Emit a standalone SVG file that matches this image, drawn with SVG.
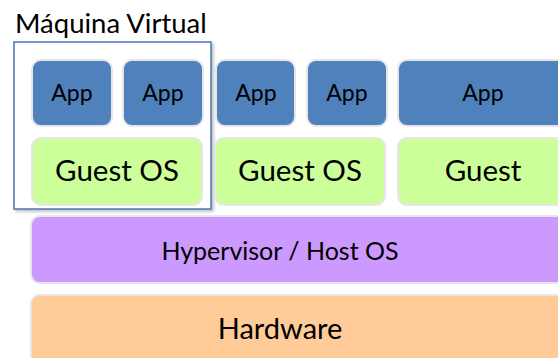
<svg xmlns="http://www.w3.org/2000/svg" width="558" height="358" viewBox="0 0 558 358">
<defs>
<filter id="sh" x="-10%" y="-10%" width="130%" height="130%">
<feDropShadow dx="2" dy="2" stdDeviation="1.5" flood-color="#000" flood-opacity="0.25"/>
</filter>
</defs>
<style>
.app{fill:#4F81BD;stroke:#E6E6E6;stroke-width:2}
.guest{fill:#CCFF99;stroke:#E6E6E6;stroke-width:2}
.hyp{fill:#CC99FF;stroke:#E6E6E6;stroke-width:2}
.hw{fill:#FFCC99;stroke:#E6E6E6;stroke-width:2}
text{font-family:Lato,"Open Sans","Liberation Sans",sans-serif;fill:#000;text-anchor:middle}
.ta{font-size:23px}
.tg{font-size:29.5px}
</style>
<rect width="558" height="358" fill="#fff"/>
<g id="vm">
<rect x="14" y="42" width="197" height="167" fill="#fff" stroke="#4A76AE" stroke-width="1.5" filter="url(#sh)"/>
<text x="15" y="33" style="font-size:27.5px;text-anchor:start">Máquina Virtual</text>
</g>
<g id="hardware">
<rect class="hw" x="31" y="295" width="560" height="80" rx="9"/>
<text x="280" y="339" style="font-size:29px">Hardware</text>
</g>
<g id="hypervisor">
<rect class="hyp" x="31" y="216" width="560" height="67" rx="9"/>
<text x="280" y="260" style="font-size:25px">Hypervisor / Host OS</text>
</g>
<g id="guest1">
<rect class="guest" x="32" y="138" width="170" height="67" rx="9"/>
<text class="tg" x="117" y="181">Guest OS</text>
</g>
<g id="guest2">
<rect class="guest" x="215" y="138" width="170" height="67" rx="9"/>
<text class="tg" x="300" y="181">Guest OS</text>
</g>
<g id="guest3">
<rect class="guest" x="398" y="138" width="170" height="67" rx="9"/>
<text class="tg" x="483" y="181">Guest</text>
</g>
<g id="app1">
<rect class="app" x="32" y="60" width="80" height="66" rx="9"/>
<text class="ta" x="72" y="101">App</text>
</g>
<g id="app2">
<rect class="app" x="123" y="60" width="80" height="66" rx="9"/>
<text class="ta" x="163" y="101">App</text>
</g>
<g id="app3">
<rect class="app" x="216" y="60" width="79" height="66" rx="9"/>
<text class="ta" x="256" y="101">App</text>
</g>
<g id="app4">
<rect class="app" x="307" y="60" width="80" height="66" rx="9"/>
<text class="ta" x="347" y="101">App</text>
</g>
<g id="app5">
<rect class="app" x="398" y="60" width="170" height="66" rx="9"/>
<text class="ta" x="483" y="101">App</text>
</g>
<g id="connectors"/>
</svg>
